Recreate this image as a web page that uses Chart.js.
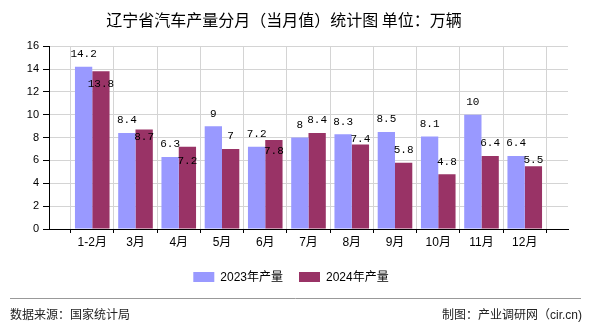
<!DOCTYPE html>
<html>
<head>
<meta charset="utf-8">
<script src="https://cdn.jsdelivr.net/npm/chart.js@4/dist/chart.umd.min.js"></script>
<style>
  html, body { margin: 0; padding: 0; background: #fff; }
  #wrap { width: 590px; height: 330px; position: relative; }
</style>
</head>
<body>
<div id="wrap"><canvas id="c" width="590" height="330"></canvas></div>
<script>
// Monthly car output of Liaoning, in 10k vehicles
const months = ['1-2月', '3月', '4月', '5月', '6月', '7月', '8月', '9月', '10月', '11月', '12月'];
const output2023 = [14.2, 8.4, 6.3, 9, 7.2, 8, 8.3, 8.5, 8.1, 10, 6.4];
const output2024 = [13.8, 8.7, 7.2, 7, 7.8, 8.4, 7.4, 5.8, 4.8, 6.4, 5.5];
const seriesNames = ['2023年产量', '2024年产量'];
const seriesColors = ['#9999ff', '#993366'];
const yMin = 0, yMax = 16, yStep = 2;

const titleText = '辽宁省汽车产量分月（当月值）统计图 单位：万辆';
const sourceText = '数据来源：国家统计局';
const creditText = '制图：产业调研网（cir.cn)';

const CJK = '"Liberation Sans", "Noto Sans CJK SC", sans-serif';

// one empty slot on each side of the months
const axisLabels = [''].concat(months, ['']);
const pad = arr => [null].concat(arr, [null]);

// value labels above bars; the second series' label steps down when it would collide
const valueLabels = {
  id: 'valueLabels',
  afterDatasetsDraw(chart) {
    const ctx = chart.ctx;
    ctx.save();
    ctx.font = '11px "Liberation Mono", "DejaVu Sans Mono", monospace';
    ctx.fillStyle = '#000';
    ctx.textAlign = 'center';
    ctx.textBaseline = 'middle';
    const m0 = chart.getDatasetMeta(0), m1 = chart.getDatasetMeta(1);
    const d0 = chart.data.datasets[0].data, d1 = chart.data.datasets[1].data;
    const lift = 12.5, lineH = 14, minGap = 3;
    m0.data.forEach((b0, i) => {
      if (d0[i] == null) return;
      const b1 = m1.data[i];
      const t0 = String(d0[i]), t1 = String(d1[i]);
      const w0 = ctx.measureText(t0).width, w1 = ctx.measureText(t1).width;
      const y0 = b0.y - lift;
      let y1 = b1.y - lift;
      const gap = (b1.x - w1 / 2) - (b0.x + w0 / 2);
      if (gap < minGap && Math.abs(y1 - y0) < lineH) {
        y1 = y0 + lineH + Math.max(0, -gap - 1) * 2;
      }
      ctx.fillText(t0, b0.x, y0);
      ctx.fillText(t1, b1.x, y1);
    });
    ctx.restore();
  }
};

// legend under the axis and the source / credit footer
const frame = {
  id: 'frame',
  afterDraw(chart) {
    const ctx = chart.ctx;
    const W = chart.width;
    ctx.save();
    // legend
    ctx.font = '12px ' + CJK;
    ctx.textBaseline = 'middle';
    ctx.textAlign = 'left';
    const boxW = 21, boxH = 10, txtGap = 6, itemGap = 16;
    const widths = seriesNames.map(n => boxW + txtGap + ctx.measureText(n).width);
    const total = widths.reduce((a, b) => a + b, 0) + itemGap * (widths.length - 1);
    let x = W / 2 - 4 - total / 2;
    const ly = 277;
    seriesNames.forEach((n, i) => {
      ctx.fillStyle = seriesColors[i];
      ctx.fillRect(x, ly - boxH / 2, boxW, boxH);
      ctx.fillStyle = '#000';
      ctx.fillText(n, x + boxW + txtGap, ly + 0.5);
      x += widths[i] + itemGap;
    });
    // footer rule
    ctx.strokeStyle = '#999';
    ctx.lineWidth = 1;
    ctx.beginPath();
    ctx.moveTo(10, 298.5);
    ctx.lineTo(581, 298.5);
    ctx.stroke();
    // footer text
    ctx.fillStyle = '#222';
    ctx.font = '12px ' + CJK;
    ctx.textAlign = 'left';
    ctx.fillText(sourceText, 10, 316);
    ctx.textAlign = 'right';
    ctx.fillText(creditText, 582, 316);
    ctx.restore();
  }
};

new Chart(document.getElementById('c'), {
  type: 'bar',
  data: {
    labels: axisLabels,
    datasets: [
      { label: seriesNames[0], data: pad(output2023), backgroundColor: seriesColors[0] },
      { label: seriesNames[1], data: pad(output2024), backgroundColor: seriesColors[1] }
    ]
  },
  options: {
    responsive: false,
    devicePixelRatio: 1,
    animation: false,
    categoryPercentage: 0.8,
    barPercentage: 1,
    layout: { padding: { left: 0, right: 22, top: 0, bottom: 74 } },
    plugins: {
      legend: { display: false },
      tooltip: { enabled: false },
      title: {
        display: true,
        text: titleText,
        color: '#000',
        font: { family: '"Noto Sans CJK SC", sans-serif', size: 16, weight: 'normal', lineHeight: 1.2 },
        padding: { top: 10, bottom: 17 }
      }
    },
    scales: {
      x: {
        offset: false,
        grid: { color: '#d4d4d4', tickColor: '#000', tickLength: 4, lineWidth: 1 },
        border: { color: '#000', width: 1 },
        ticks: {
          color: '#000', font: { family: CJK, size: 12 }, padding: 2,
          maxRotation: 0, autoSkip: false
        },
        afterFit(scale) { scale.height = 27; }
      },
      y: {
        min: yMin, max: yMax,
        grid: { color: '#d4d4d4', tickColor: '#000', tickLength: 6, lineWidth: 1 },
        border: { color: '#000', width: 1 },
        ticks: { stepSize: yStep, color: '#000', font: { family: CJK, size: 11 }, padding: 4 },
        afterFit(scale) { scale.width = 49; }
      }
    }
  },
  plugins: [valueLabels, frame]
});
</script>
</body>
</html>
